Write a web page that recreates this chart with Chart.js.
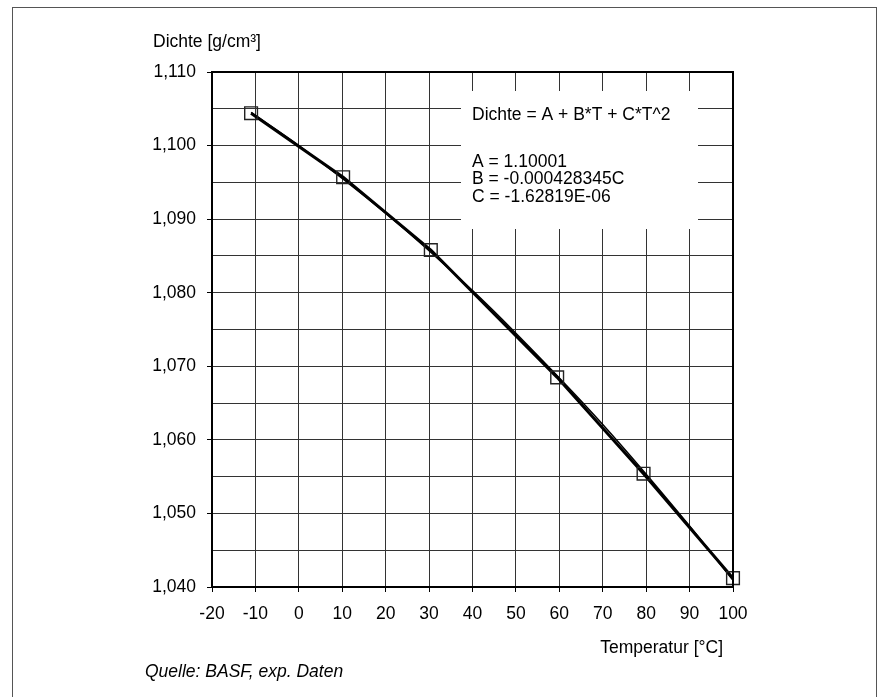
<!DOCTYPE html>
<html>
<head>
<meta charset="utf-8">
<script src="https://cdn.jsdelivr.net/npm/chart.js@4.4.1/dist/chart.umd.min.js"></script>
<style>
  html, body { margin: 0; padding: 0; background: #fff; }
  #wrap { width: 882px; height: 697px; }
</style>
</head>
<body>
<div id="wrap"><canvas id="densityChart" width="882" height="697"></canvas></div>
<script>
// measured points
var temperatures = [-11, 10.2, 30.4, 59.5, 79.4, 100];
var densities = [1.1044, 1.0957, 1.0858, 1.0685, 1.0554, 1.0412];
// fitted curve
var fitTemps = [-11, 0, 20, 40, 50, 70, 90, 100];
var fitDensities = [1.1045, 1.1000, 1.0908, 1.0803, 1.0745, 1.0621, 1.0483, 1.0409];

var xTicks = { min: -20, max: 100, step: 10 };
var yTicks = { min: 1.040, max: 1.110, step: 0.005 };

var yAxisTitle = 'Dichte [g/cm³]';
var xAxisTitle = 'Temperatur [°C]';
var sourceText = 'Quelle: BASF, exp. Daten';
var fitLines = ['Dichte = A + B*T + C*T^2', 'A = 1.10001', 'B = -0.000428345C', 'C = -1.62819E-06'];

var FAMILY = '"Liberation Sans", Arial, sans-serif';
var FONT = '17.5px ' + FAMILY;

function isMajor(v) {
    return Math.round(v * 1000) % 10 === 0;
}

var extras = {
    id: 'extras',
    beforeDatasetsDraw: function (chart) {
        var ctx = chart.ctx;
        ctx.save();
        ctx.fillStyle = '#fff';
        ctx.fillRect(461, 91, 237, 138);
        ctx.restore();
    },
    afterDraw: function (chart) {
        var ctx = chart.ctx;
        var a = chart.chartArea;
        ctx.save();
        // outer frame
        ctx.strokeStyle = '#555';
        ctx.lineWidth = 1;
        ctx.strokeRect(12.5, 7.5, 864, 700);
        // plot border
        ctx.strokeStyle = '#000';
        ctx.lineWidth = 2;
        ctx.strokeRect(a.left, a.top, a.right - a.left, a.bottom - a.top);
        // texts
        ctx.fillStyle = '#000';
        ctx.font = FONT;
        ctx.textBaseline = 'alphabetic';
        ctx.textAlign = 'left';
        ctx.fillText(yAxisTitle, 153, 47);
        ctx.fillText(fitLines[0], 472, 120);
        ctx.fillText(fitLines[1], 472, 166.5);
        ctx.fillText(fitLines[2], 472, 184);
        ctx.fillText(fitLines[3], 472, 201.5);
        ctx.textAlign = 'right';
        ctx.fillText(xAxisTitle, 723, 653);
        ctx.textAlign = 'left';
        ctx.font = 'italic ' + FONT;
        ctx.fillText(sourceText, 145, 677);
        ctx.restore();
    }
};

var ctx = document.getElementById('densityChart').getContext('2d');
var chart = new Chart(ctx, {
    type: 'line',
    data: {
        datasets: [{
            label: 'Messwerte',
            data: temperatures.map(function (t, i) { return { x: t, y: densities[i] }; }),
            borderColor: '#000',
            borderWidth: 3,
            pointStyle: 'rect',
            pointRadius: 9,
            pointBorderWidth: 1.4,
            pointBorderColor: '#222',
            pointBackgroundColor: 'rgba(0,0,0,0)',
            tension: 0,
            clip: false
        }, {
            label: 'Fit',
            data: fitTemps.map(function (t, i) { return { x: t, y: fitDensities[i] }; }),
            borderColor: '#000',
            borderWidth: 1.5,
            pointRadius: 0,
            cubicInterpolationMode: 'monotone',
            clip: false
        }]
    },
    options: {
        responsive: false,
        animation: false,
        layout: { padding: { top: 72, right: 149, left: 0, bottom: 0 } },
        plugins: {
            legend: { display: false },
            tooltip: { enabled: false }
        },
        scales: {
            x: {
                type: 'linear',
                min: xTicks.min,
                max: xTicks.max,
                afterFit: function (scale) { scale.height = 110; },
                ticks: {
                    stepSize: xTicks.step,
                    color: '#000',
                    font: { family: FAMILY, size: 17.5 },
                    padding: 12,
                    maxRotation: 0
                },
                grid: { color: '#333', lineWidth: 1, tickLength: 5, tickColor: '#000' },
                border: { display: true, color: '#000', width: 2 }
            },
            y: {
                type: 'linear',
                min: yTicks.min,
                max: yTicks.max,
                afterFit: function (scale) { scale.width = 212; },
                ticks: {
                    stepSize: yTicks.step,
                    color: '#000',
                    font: { family: FAMILY, size: 17.5 },
                    padding: 11,
                    autoSkip: false,
                    callback: function (v) {
                        return isMajor(v) ? v.toFixed(3).replace('.', ',') : '';
                    }
                },
                grid: {
                    color: '#333',
                    lineWidth: 1,
                    tickLength: 5,
                    tickColor: function (c) {
                        return c.tick && isMajor(c.tick.value) ? '#000' : 'rgba(0,0,0,0)';
                    }
                },
                border: { display: true, color: '#000', width: 2 }
            }
        }
    },
    plugins: [extras]
});
</script>
</body>
</html>
